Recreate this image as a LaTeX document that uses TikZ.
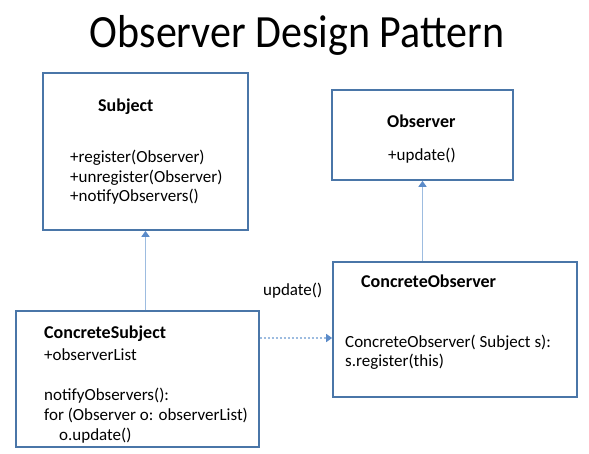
\documentclass[tikz,border=0pt]{standalone}
\usepackage{fontspec}
\setmainfont{Carlito}
\usetikzlibrary{arrows.meta}
\definecolor{boxblue}{HTML}{4A76A8}
\definecolor{linkblue}{HTML}{9DBCE0}
\definecolor{tipblue}{HTML}{5B8BC9}
\begin{document}
\begin{tikzpicture}[x=1pt,y=-1pt,
  umlbox/.style={draw=boxblue,line width=1.7pt,inner sep=0pt},
  txt/.style={anchor=base west,inner sep=0pt,font=\fontsize{17}{19.5}\selectfont},
  cname/.style={anchor=base west,inner sep=0pt,font=\fontsize{18}{21}\selectfont\bfseries},
  link/.style={draw=linkblue,line width=1.6pt,-{Triangle[width=8pt,length=6pt,fill=tipblue,color=tipblue]}}]
\useasboundingbox[fill=white] (0,0) rectangle (589,454);

% title
\node[anchor=base,inner sep=0pt,font=\fontsize{42}{48}\selectfont] (title) at (297,48) {\scalebox{1}[1.1]{Observer Design Pattern}};

% class boxes
\node[umlbox,minimum width=205pt,minimum height=157pt] (subj) at (145.5,151.5) {};
\node[umlbox,minimum width=181pt,minimum height=90pt] (obs) at (422.5,135) {};
\node[umlbox,minimum width=244pt,minimum height=135pt] (cobs) at (455,329.5) {};
\node[umlbox,minimum width=243pt,minimum height=136pt] (csub) at (137.5,379) {};

% Subject
\node[cname] (subjname) at (98,112) {Subject};
\node[txt] (subjm1) at (70,163) {+register(Observer)};
\node[txt] (subjm2) at (70,182.5) {+unregister(Observer)};
\node[txt] (subjm3) at (70,202) {+notifyObservers()};

% Observer
\node[cname] (obsname) at (387,128) {Observer};
\node[txt] (obsm1) at (388,161) {+update()};

% ConcreteObserver
\node[cname] (cobsname) at (361,288) {ConcreteObserver};
\node[txt] (cobsm1) at (345,347) {ConcreteObserver( Subject s):};
\node[txt] (cobsm2) at (345,366.5) {s.register(this)};

% ConcreteSubject
\node[cname] (csubname) at (44,338) {ConcreteSubject};
\node[txt] (csubm1) at (44,360) {+observerList};
\node[txt] (csubm2) at (44,400) {notifyObservers():};
\node[txt] (csubm3) at (44,420) {for (Observer o: observerList)};
\node[txt] (csubm4) at (59,440.5) {o.update()};

% generalisation links
\draw[link] (subj.south |- csub.north) -- (subj.south);
\draw[link] (obs.south |- cobs.north) -- (obs.south);

% update call
\coordinate (callrow) at (0,338);
\draw[link,dash pattern=on 2pt off 2pt] (csub.east |- callrow) -- (cobs.west |- callrow);
\node[txt] (calllabel) at (263,296) {update()};
\end{tikzpicture}
\end{document}
